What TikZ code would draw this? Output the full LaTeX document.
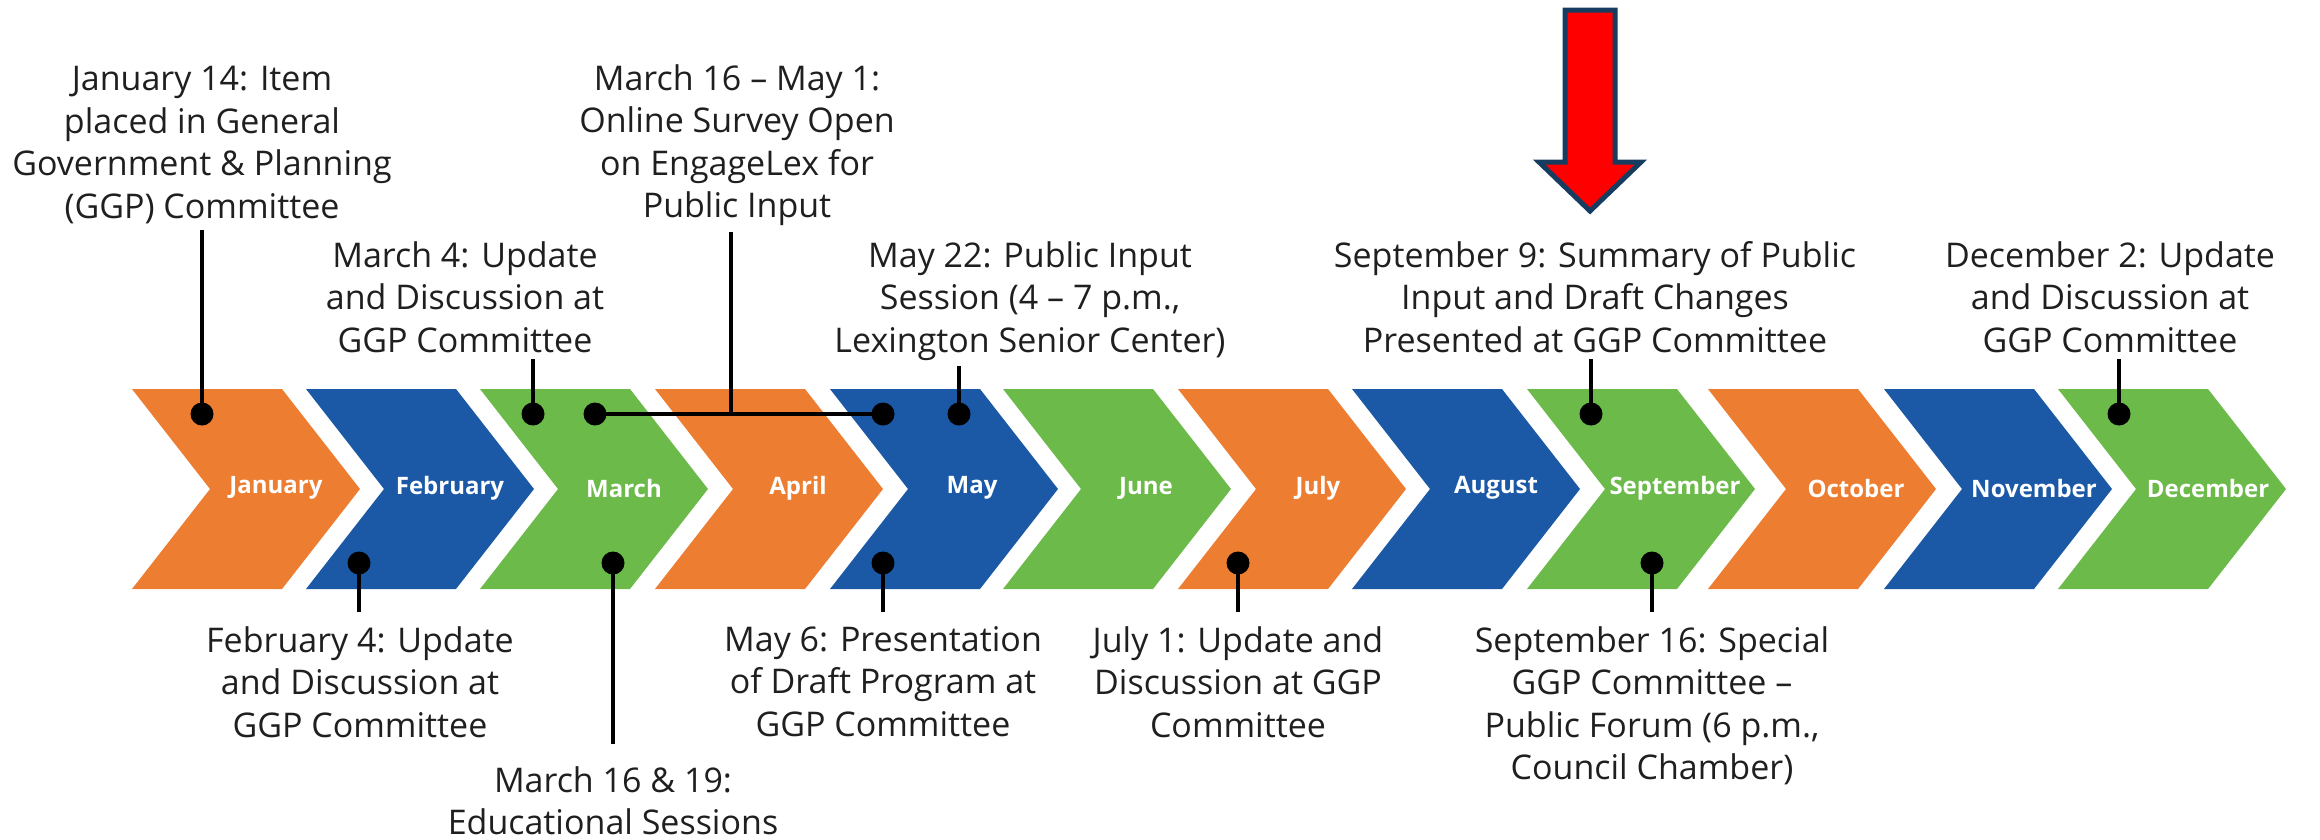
\documentclass[tikz,border=0pt]{standalone}
\usepackage{fontspec}
\setmainfont{Open Sans}
\usepackage{tikz}
\usetikzlibrary{positioning}

\definecolor{corange}{RGB}{237,125,49}
\definecolor{cblue}{RGB}{27,89,166}
\definecolor{cgreen}{RGB}{108,186,74}
\definecolor{arrowred}{RGB}{255,0,0}
\definecolor{arrowedge}{RGB}{22,60,95}

\begin{document}
\begin{tikzpicture}[x=1pt,y=-1pt]
    \tikzstyle{month}=[text=white,font=\bfseries\fontsize{24}{28}\selectfont];
    \tikzstyle{event}=[align=center,inner sep=0pt,anchor=north,text=black!88,font=\fontsize{34}{42.5}\selectfont];
    \tikzstyle{dot}=[circle,fill=black,inner sep=0pt,minimum size=23pt];
    \tikzstyle{leader}=[draw,line width=3.5pt];
    \tikzstyle{chevron}=[insert path={-- ++(150,0) -- ++(78,100) -- ++(-78,100) -- ++(-150,0) -- ++(78,-100) -- cycle}];

    \useasboundingbox (0,0) rectangle (2320,839);

    % the twelve months
    \fill[corange] (132,389) [chevron];
    \fill[cblue]   (306,389) [chevron];
    \fill[cgreen]  (480,389) [chevron];
    \fill[corange] (655,389) [chevron];
    \fill[cblue]   (830,389) [chevron];
    \fill[cgreen]  (1003,389) [chevron];
    \fill[corange] (1178,389) [chevron];
    \fill[cblue]   (1352,389) [chevron];
    \fill[cgreen]  (1527,389) [chevron];
    \fill[corange] (1708,389) [chevron];
    \fill[cblue]   (1884,389) [chevron];
    \fill[cgreen]  (2058,389) [chevron];

    \node[month] at (276, 488)  (jan) {January};
    \node[month] at (450, 488)  (feb) {February};
    \node[month] at (624, 488)  (mar) {March};
    \node[month] at (798, 488)  (apr) {April};
    \node[month] at (972, 488)  (may) {May};
    \node[month] at (1146, 488) (jun) {June};
    \node[month] at (1318, 488) (jul) {July};
    \node[month] at (1496, 488) (aug) {August};
    \node[month] at (1675, 488) (sep) {September};
    \node[month] at (1856, 488) (oct) {October};
    \node[month] at (2034, 488) (nov) {November};
    \node[month] at (2208, 488) (dec) {December};

    % events above
    \node[event] at (202, 66)  (tjan14) {January 14: Item\\placed in General\\Government \& Planning\\(GGP) Committee};
    \node[event] at (465, 241) (tmar4) {March 4: Update\\and Discussion at\\GGP Committee};
    \node[event] at (737, 64)  (tsurvey) {March 16 – May 1:\\Online Survey Open\\on EngageLex for\\Public Input};
    \node[event] at (1030, 241) (tmay22) {May 22: Public Input\\Session (4 – 7 p.m.,\\Lexington Senior Center)};
    \node[event] at (1595, 241) (tsep9) {September 9: Summary of Public\\Input and Draft Changes\\Presented at GGP Committee};
    \node[event] at (2110, 241) (tdec2) {December 2: Update\\and Discussion at\\GGP Committee};

    % events below
    \node[event] at (360, 626)  (tfeb4) {February 4: Update\\and Discussion at\\GGP Committee};
    \node[event] at (613, 766)  (tmar19) {March 16 \& 19:\\Educational Sessions};
    \node[event] at (883, 626)  (tmay6) {May 6: Presentation\\of Draft Program at\\GGP Committee};
    \node[event] at (1238, 626) (tjul1) {July 1: Update and\\Discussion at GGP\\Committee};
    \node[event] at (1652, 626) (tsep16) {September 16: Special\\GGP Committee –\\Public Forum (6 p.m.,\\Council Chamber)};

    \node[dot] at (202, 414)  (djan14) {};
    \node[dot] at (533, 414)  (dmar4) {};
    \node[dot] at (595, 414)  (dmar16) {};
    \node[dot] at (883, 414)  (dmay1) {};
    \node[dot] at (959, 414)  (dmay22) {};
    \node[dot] at (1591, 414) (dsep9) {};
    \node[dot] at (2119, 414) (ddec2) {};
    \node[dot] at (359, 563)  (dfeb4) {};
    \node[dot] at (613, 563)  (dmar19) {};
    \node[dot] at (883, 563)  (dmay6) {};
    \node[dot] at (1238, 563) (djul1) {};
    \node[dot] at (1652, 563) (dsep16) {};

    \coordinate (join) at (731, 414);

    \draw[leader,shorten >=6pt] (djan14.center) -- (djan14 |- tjan14.south);
    \draw[leader,shorten >=6pt] (dmar4.center) -- (dmar4 |- tmar4.south);
    \draw[leader] (dmar16.center) -- (dmay1.center);
    \draw[leader,shorten >=6pt] (join) -- (join |- tsurvey.south);
    \draw[leader,shorten >=6pt] (dmay22.center) -- (dmay22 |- tmay22.south);
    \draw[leader,shorten >=6pt] (dsep9.center) -- (dsep9 |- tsep9.south);
    \draw[leader,shorten >=6pt] (ddec2.center) -- (ddec2 |- tdec2.south);
    \draw[leader,shorten >=14pt] (dfeb4.center) -- (dfeb4 |- tfeb4.north);
    \draw[leader,shorten >=22pt] (dmar19.center) -- (dmar19 |- tmar19.north);
    \draw[leader,shorten >=14pt] (dmay6.center) -- (dmay6 |- tmay6.north);
    \draw[leader,shorten >=14pt] (djul1.center) -- (djul1 |- tjul1.north);
    \draw[leader,shorten >=14pt] (dsep16.center) -- (dsep16 |- tsep16.north);

    % the red marker arrow
    \filldraw[fill=arrowred,draw=arrowedge,line width=5pt,miter limit=4]
      (1565,10) -- (1615,10) -- (1615,162) -- (1641,162) -- (1590,211)
      -- (1539,162) -- (1565,162) -- cycle;
\end{tikzpicture}
\end{document}
